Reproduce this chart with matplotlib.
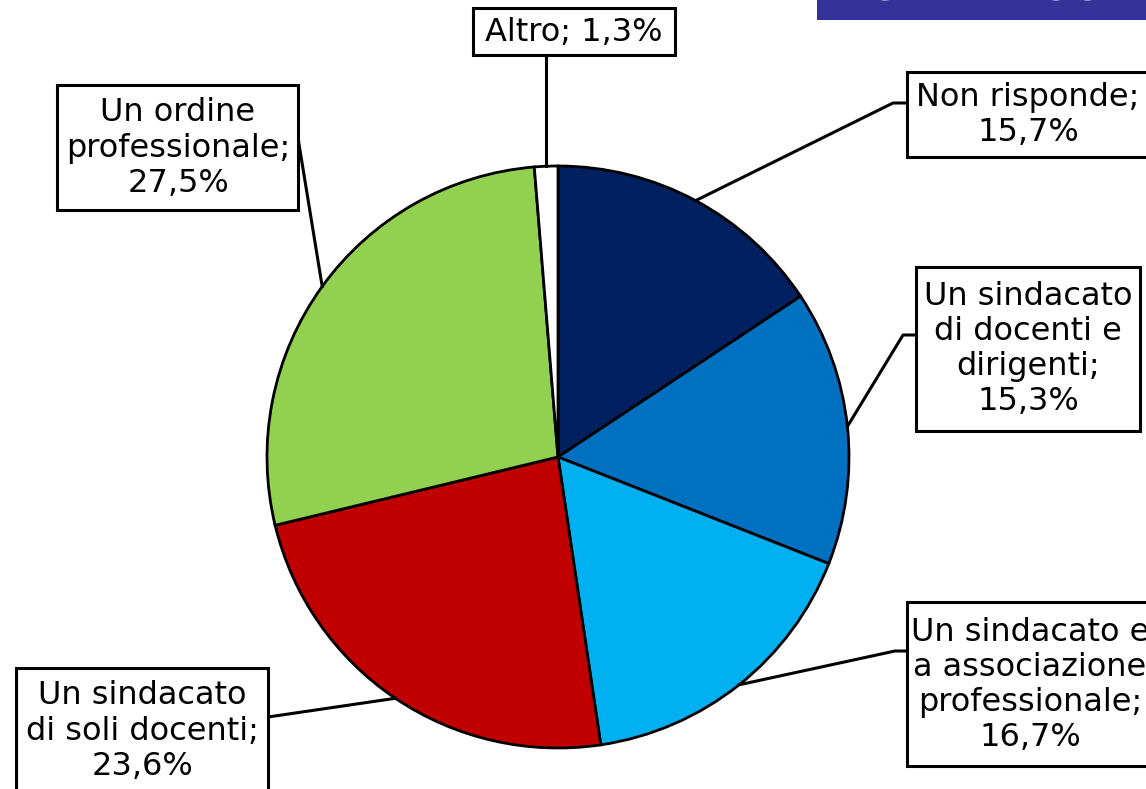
import numpy as np
import matplotlib
matplotlib.use('Agg')
import matplotlib.pyplot as plt
from matplotlib.patches import Rectangle

# --- Data
labels = ['Non risponde', 'Un sindacato\ndi docenti e\ndirigenti',
          'Un sindacato e\na associazione\nprofessionale', 'Un sindacato\ndi soli docenti',
          'Un ordine\nprofessionale', 'Altro']
values = [15.7, 15.3, 16.7, 23.6, 27.5, 1.3]
colors = ['#002060', '#0070C0', '#00B0F0', '#C00000', '#92D050', '#FFFFFF']
title = 'TOTALE DOCENTI'

W, H = 1146, 789
fig = plt.figure(figsize=(W / 100, H / 100), dpi=100)
ax = fig.add_axes([0, 0, 1, 1])

# pixel helper (image coords -> data coords)
def P(x, y):
    return x, H - y

cx, cy = P(558, 457)
R = 291

ax.pie(values, colors=colors, startangle=90, counterclock=False,
       center=(cx, cy), radius=R, frame=True,
       wedgeprops=dict(edgecolor='black', linewidth=2))
ax.set_xlim(0, W)
ax.set_ylim(0, H)
ax.set_aspect('equal')
ax.axis('off')

# label boxes: (left, top, right, bottom) in image px, text centre, elbow point, box edge x
boxes = [
    ((907, 72, 1160, 157), (1028, 115), (893, 103), 907),
    ((916, 267, 1140, 431), (1028, 349), (903, 335), 916),
    ((907, 602, 1165, 766), (1030, 685), (895, 651), 907),
    ((16, 668, 268, 800), (142, 731), (268, 717), 268),
    ((57, 85, 298, 210), (178, 148), (298, 138), 298),
    ((473, 8, 675, 55), (574, 32), None, None),
]

lw = 2.2
tot = sum(values)
cum = 0.0
for lab, v, (bx, tc, elbow, edge_x) in zip(labels, values, boxes):
    mid = 90 - (cum + v / 2) / tot * 360
    cum += v
    px, py = cx + R * np.cos(np.radians(mid)), cy + R * np.sin(np.radians(mid))
    l, t, r, b = bx
    ax.add_patch(Rectangle(P(l, b), r - l, b - t, facecolor='white',
                           edgecolor='black', lw=lw, zorder=3))
    pct = str(v).replace('.', ',') + '%'
    txt = f'{lab}; {pct}' if lab == 'Altro' else f'{lab};\n{pct}'
    ax.text(*P(*tc), txt, ha='center', va='center', multialignment='center',
            fontsize=23, linespacing=1.17, family='DejaVu Sans', zorder=4)
    # leader line
    if elbow is None:
        ax.plot([px, px], [py, H - b], color='black', lw=lw, zorder=2)
    else:
        ex, ey = P(*elbow)
        ax.plot([px, ex, edge_x], [py, ey, ey], color='black', lw=lw, zorder=2)

# cut-off banner at top right
ax.add_patch(Rectangle(P(817, 20), W - 817, 20, facecolor='#333399',
                       edgecolor='none', zorder=3))
ax.text(*P(845, -1), title, ha='left', va='baseline', color='white',
        fontsize=26, fontweight='bold', zorder=4)

fig.savefig('out.png', dpi=100)
